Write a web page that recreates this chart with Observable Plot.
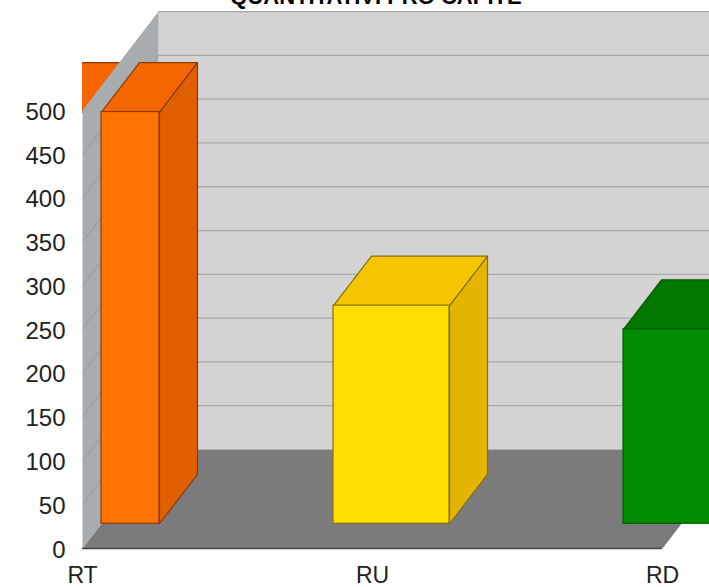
<!DOCTYPE html>
<html>
<head>
<meta charset="utf-8">
<script src="https://cdn.jsdelivr.net/npm/d3@7"></script>
<script src="https://cdn.jsdelivr.net/npm/@observablehq/plot@0.6"></script>
<style>
html,body{margin:0;padding:0;background:#fff}
svg{display:block}
</style>
</head>
<body>
<div id="chart"></div>
<script>
const title = "QUANTITATIVI PRO CAPITE";
const categories = ["RT", "RU", "RD"];
const values = [470, 249, 222];
const frontColors = ["#ff7300", "#ffe000", "#008c00"];
const topColors = ["#f56500", "#f5c600", "#007800"];
const sideColors = ["#e05f00", "#e3b500", "#006c00"];
const edgeColors = ["#8c3c00", "#86700c", "#005a00"];
const yTicks = [0, 50, 100, 150, 200, 250, 300, 350, 400, 450, 500];
const xTicks = [0, 1, 2];

// oblique projection: full depth of the chart box, in data units
const depthX = 0.262, depthY = 113;
const xMax = 2.162, yMax = 625.6, wallEnd = 3;
const barHalf = 0.2, barFront = 0.25, barBack = 0.75;
const P = (x, v, d) => ({x: x + d * depthX, y: v + d * depthY});

const face = (pts, fill, stroke, extra = {}) => Plot.line([...pts, pts[0]], {
  x: "x", y: "y", fill, stroke, strokeWidth: 1.2, clip: "frame", ...extra
});

const bars = categories.map((c, i) => ({
  i, v: values[i],
  l: Math.max(0, i - barHalf), r: i + barHalf, L: i - barHalf
}));

const gridStroke = "#a9a9a9";

const marks = [
  // back wall
  face([P(0, 0, 1), P(wallEnd, 0, 1), P(wallEnd, 500, 1), P(0, 500, 1)], "#d3d3d3", "none"),
  Plot.ruleY(yTicks.slice(1), {y: v => P(0, v, 1).y, x1: depthX, x2: xMax, stroke: gridStroke, strokeWidth: 1.3, strokeOpacity: 1}),
  // floor
  face([P(0, 0, 0), P(2, 0, 0), P(2, 0, 1), P(wallEnd, 0, 1), P(0, 0, 1)], "#7b7b7b", "none"),
  // RT's top face runs behind the wall, left of the axis
  face([P(bars[0].L, bars[0].v, barFront), P(bars[0].r, bars[0].v, barFront), P(bars[0].r, bars[0].v, barBack), P(bars[0].L, bars[0].v, barBack)], topColors[0], edgeColors[0]),
  // left wall
  face([P(0, 0, 0), P(0, 0, 1), P(0, 500, 1), P(0, 500, 0)], "#a9acaf", "none"),
  Plot.link(yTicks.slice(1, -1), {
    x1: () => 0, x2: () => depthX,
    y1: v => v, y2: v => v + depthY,
    stroke: "#979a9c", strokeWidth: 1, clip: "frame"
  }),
  // floor front edge
  Plot.ruleY([0], {x1: 0, x2: 2, stroke: "#444", strokeWidth: 1.5}),
  // bars
  ...bars.flatMap(b => [
    face([P(b.r, 0, barFront), P(b.r, 0, barBack), P(b.r, b.v, barBack), P(b.r, b.v, barFront)], sideColors[b.i], edgeColors[b.i]),
    face([P(b.l, b.v, barFront), P(b.r, b.v, barFront), P(b.r, b.v, barBack), P(b.l, b.v, barBack)], topColors[b.i], edgeColors[b.i]),
    Plot.rect([b], {
      x1: d => P(d.l, 0, barFront).x, x2: d => P(d.r, 0, barFront).x,
      y1: d => P(d.l, 0, barFront).y, y2: d => P(d.l, d.v, barFront).y,
      fill: frontColors[b.i], stroke: edgeColors[b.i], strokeWidth: 1.2, clip: "frame"
    })
  ]),
  Plot.axisY({ticks: yTicks, tickSize: 0, tickPadding: 17, fontSize: 24, dy: 1.5, color: "#222", label: null}),
  Plot.axisX({ticks: xTicks, tickFormat: i => categories[i], tickSize: 0, tickPadding: 18, fontSize: 23, color: "#222", label: null}),
  Plot.text([title], {
    frameAnchor: "top", dx: -20, dy: 3, lineAnchor: "bottom",
    fontSize: 22, fontWeight: "bold", fill: "#000"
  })
];

const chart = Plot.plot({
  width: 709, height: 587,
  marginLeft: 82, marginRight: 0, marginTop: 0, marginBottom: 39,
  style: {fontFamily: "'Liberation Sans', Arial, sans-serif", background: "#fff"},
  x: {domain: [0, xMax], range: [82, 709]},
  y: {domain: [0, yMax], range: [548, 0]},
  marks
});
document.getElementById("chart").append(chart);
</script>
</body>
</html>
